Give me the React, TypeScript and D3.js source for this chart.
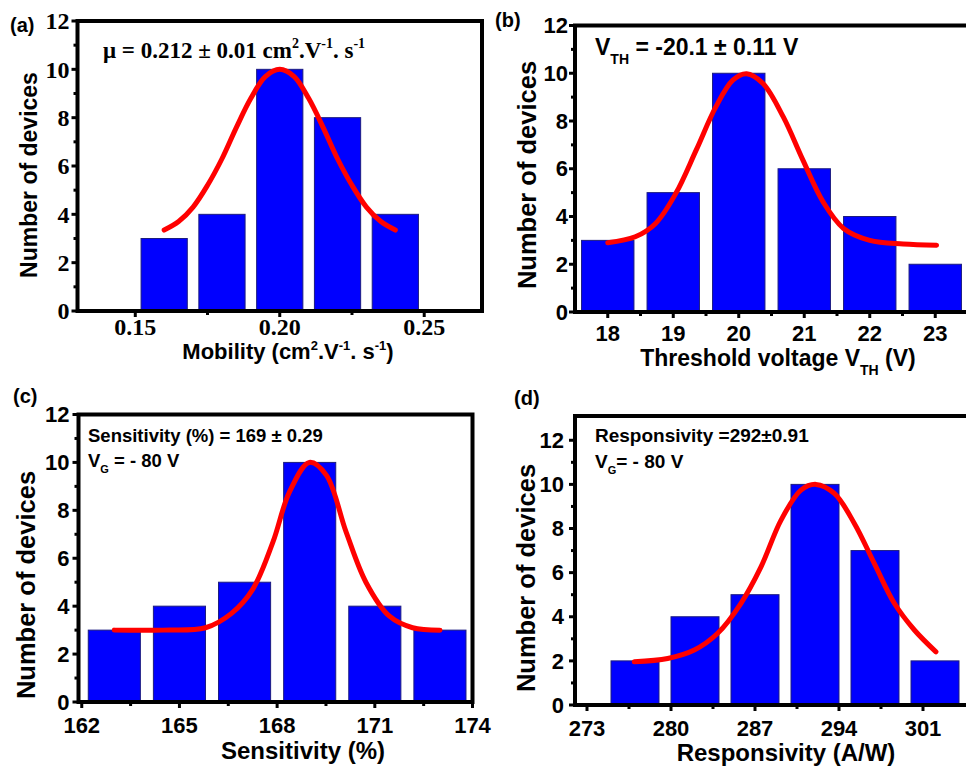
import React from 'react';
import * as d3 from 'd3';

const W = 966;
const H = 769;

// ---------- Panel (a): Mobility ----------
const mobilityBins = [0.16, 0.18, 0.2, 0.22, 0.24];
const mobilityCounts = [3, 4, 10, 8, 4];
const mobilityFitX = [0.16, 0.165, 0.17, 0.175, 0.18, 0.185, 0.19, 0.195, 0.2, 0.205, 0.21, 0.215, 0.22, 0.225, 0.23, 0.235, 0.24];
const mobilityFitY = [3.35, 3.7, 4.3, 5.2, 6.3, 7.6, 8.8, 9.7, 10, 9.7, 8.8, 7.6, 6.3, 5.2, 4.3, 3.7, 3.35];
const mobilityTicks = [0.15, 0.2, 0.25];
const mobilityMinor = [0.175, 0.225];

// ---------- Panel (b): Threshold voltage ----------
const vthBins = [18, 19, 20, 21, 22, 23];
const vthCounts = [3, 5, 10, 6, 4, 2];
const vthFitX = [18.0, 18.42, 18.73, 19.04, 19.35, 19.65, 19.91, 20.12, 20.37, 20.68, 20.98, 21.29, 21.6, 22.0, 22.51, 23.02];
const vthFitY = [2.9, 3.15, 3.71, 4.97, 6.78, 8.59, 9.71, 9.98, 9.57, 8.17, 6.36, 4.6, 3.5, 3.0, 2.85, 2.8];
const vthTicks = [18, 19, 20, 21, 22, 23];
const vthMinor = [18.5, 19.5, 20.5, 21.5, 22.5];

// ---------- Panel (c): Sensitivity ----------
const sensBins = [163, 165, 167, 169, 171, 173];
const sensCounts = [3, 4, 5, 10, 4, 3];
const sensFitX = [163.0, 164.5, 165.8, 166.6, 167.25, 167.87, 168.38, 168.99, 169.51, 170.12, 170.73, 171.45, 172.16, 173.0];
const sensFitY = [3.0, 3.0, 3.1, 3.7, 4.7, 6.67, 8.77, 10.0, 9.47, 7.09, 4.99, 3.58, 3.1, 3.0];
const sensTicks = [162, 165, 168, 171, 174];
const sensMinor = [163.5, 166.5, 169.5, 172.5];

// ---------- Panel (d): Responsivity ----------
const respBins = [277, 282, 287, 292, 297, 302];
const respCounts = [2, 4, 5, 10, 7, 2];
const respFitX = [276.94, 279.72, 281.94, 283.89, 285.83, 287.5, 289.17, 290.83, 292.08, 293.61, 295.28, 296.94, 298.61, 300.28, 302.08];
const respFitY = [1.96, 2.11, 2.49, 3.25, 4.61, 6.26, 8.38, 9.74, 10.0, 9.59, 8.23, 6.42, 4.61, 3.4, 2.41];
const respTicks = [273, 280, 287, 294, 301];
const respMinor = [276.5, 283.5, 290.5, 297.5];

// shared y ticks
const countTicks = [0, 2, 4, 6, 8, 10, 12];
const countMinor = [1, 3, 5, 7, 9, 11];

const SANS = '"Liberation Sans", Arial, sans-serif';
const SERIF = '"Liberation Serif", "Times New Roman", serif';

type PanelProps = {
  left: number; right: number; top: number; bottom: number;
  xDomain: [number, number]; yDomain: [number, number];
  bins: number[]; counts: number[]; barW: number;
  fitX: number[]; fitY: number[];
  xTicks: number[]; xMinor: number[]; xFmt: (v: number) => string;
  tickFont: string; tickSize: number;
  yLabelGap: number; xLabelBase: number;
};

function Panel(p: PanelProps) {
  const x = d3.scaleLinear().domain(p.xDomain).range([p.left, p.right]);
  const y = d3.scaleLinear().domain(p.yDomain).range([p.bottom, p.top]);
  const line = d3.line<number>()
    .x((_, i) => x(p.fitX[i]))
    .y((d) => y(d))
    .curve(d3.curveCatmullRom.alpha(0.5));
  const bw = x(p.xDomain[0] + p.barW) - x(p.xDomain[0]);
  return (
    <g>
      {p.bins.map((b, i) => (
        <rect key={i} x={x(b) - bw / 2} y={y(p.counts[i])} width={bw} height={y(0) - y(p.counts[i])}
          fill="#0000ff" stroke="#1c1c80" strokeWidth={1} />
      ))}
      <path d={line(p.fitY) || ''} fill="none" stroke="#ff0000" strokeWidth={5} strokeLinecap="round" />
      <rect x={p.left} y={p.top} width={p.right - p.left} height={p.bottom - p.top} fill="none" stroke="#000" strokeWidth={4} />
      {countTicks.filter(t => t <= p.yDomain[1]).map((t) => (
        <g key={'y' + t}>
          <line x1={p.left - 6} x2={p.left} y1={y(t)} y2={y(t)} stroke="#000" strokeWidth={3} />
          <text x={p.left - p.yLabelGap} y={y(t)} dy="0.35em" textAnchor="end" fontFamily={p.tickFont} fontWeight="bold" fontSize={p.tickSize}>{t}</text>
        </g>
      ))}
      {countMinor.filter(t => t <= p.yDomain[1]).map((t) => (
        <line key={'ym' + t} x1={p.left - 4} x2={p.left} y1={y(t)} y2={y(t)} stroke="#000" strokeWidth={3} />
      ))}
      {p.xTicks.map((t) => (
        <g key={'x' + t}>
          <line x1={x(t)} x2={x(t)} y1={p.bottom} y2={p.bottom + 6} stroke="#000" strokeWidth={3} />
          <text x={x(t)} y={p.xLabelBase} textAnchor="middle" fontFamily={p.tickFont} fontWeight="bold" fontSize={p.tickSize}>{p.xFmt(t)}</text>
        </g>
      ))}
      {p.xMinor.map((t) => (
        <line key={'xm' + t} x1={x(t)} x2={x(t)} y1={p.bottom} y2={p.bottom + 4} stroke="#000" strokeWidth={3} />
      ))}
    </g>
  );
}

function YTitle({ cx, cy, size }: { cx: number; cy: number; size: number }) {
  return (
    <text transform={`translate(${cx},${cy}) rotate(-90)`} dy="0.35em" textAnchor="middle" fontFamily={SANS} fontWeight="bold" fontSize={size}>
      Number of devices
    </text>
  );
}

export default function App() {
  const f2 = d3.format('.2f');
  const f0 = d3.format('d');
  return (
    <svg width={W} height={H} style={{ position: 'absolute', left: 0, top: 0, background: '#fff' }}>
      <rect x={0} y={0} width={W} height={H} fill="#fff" />
      {/* (a) */}
      <Panel left={77.5} right={482} top={21} bottom={311} xDomain={[0.13, 0.27]} yDomain={[0, 12]}
        bins={mobilityBins} counts={mobilityCounts} barW={0.016} fitX={mobilityFitX} fitY={mobilityFitY}
        xTicks={mobilityTicks} xMinor={mobilityMinor} xFmt={f2} tickFont={SERIF} tickSize={24}
        yLabelGap={8} xLabelBase={335} />
      <text x={10} y={32} fontFamily={SANS} fontWeight="bold" fontSize={20}>(a)</text>
      <YTitle cx={29} cy={175} size={23} />
      <text x={288} y={359} textAnchor="middle" fontFamily={SANS} fontWeight="bold" fontSize={22}>
        Mobility (cm<tspan dy={-9} fontSize={13}>2</tspan><tspan dy={9}>.V</tspan><tspan dy={-9} fontSize={13}>-1</tspan><tspan dy={9}>. s</tspan><tspan dy={-9} fontSize={13}>-1</tspan><tspan dy={9}>)</tspan>
      </text>
      <text x={103} y={58} fontFamily={SERIF} fontWeight="bold" fontSize={23}>
        μ = 0.212 ± 0.01 cm<tspan dy={-10} fontSize={14}>2</tspan><tspan dy={10}>.V</tspan><tspan dy={-10} fontSize={14}>-1</tspan><tspan dy={10}>. s</tspan><tspan dy={-10} fontSize={14}>-1</tspan>
      </text>

      {/* (b) */}
      <Panel left={575} right={968} top={25.5} bottom={312} xDomain={[17.5, 23.5]} yDomain={[0, 12]}
        bins={vthBins} counts={vthCounts} barW={0.8} fitX={vthFitX} fitY={vthFitY}
        xTicks={vthTicks} xMinor={vthMinor} xFmt={f0} tickFont={SANS} tickSize={22}
        yLabelGap={7} xLabelBase={341} />
      <text x={495} y={27} fontFamily={SANS} fontWeight="bold" fontSize={20}>(b)</text>
      <YTitle cx={527} cy={175} size={25.5} />
      <text x={778} y={366} textAnchor="middle" fontFamily={SANS} fontWeight="bold" fontSize={23}>
        Threshold voltage V<tspan dy={9} fontSize={14}>TH</tspan><tspan dy={-9}> (V)</tspan>
      </text>
      <text x={595} y={55} fontFamily={SANS} fontWeight="bold" fontSize={23}>
        V<tspan dy={9} fontSize={14}>TH</tspan><tspan dy={-9}> = -20.1 ± 0.11 V</tspan>
      </text>

      {/* (c) */}
      <Panel left={78.5} right={472.5} top={414.5} bottom={702} xDomain={[161.9, 174]} yDomain={[0, 12]}
        bins={sensBins} counts={sensCounts} barW={1.6} fitX={sensFitX} fitY={sensFitY}
        xTicks={sensTicks} xMinor={sensMinor} xFmt={f0} tickFont={SANS} tickSize={22}
        yLabelGap={9} xLabelBase={733} />
      <text x={13} y={403} fontFamily={SANS} fontWeight="bold" fontSize={20}>(c)</text>
      <YTitle cx={26} cy={585} size={25.5} />
      <text x={303} y={759} textAnchor="middle" fontFamily={SANS} fontWeight="bold" fontSize={24}>Sensitivity (%)</text>
      <text x={88} y={442} fontFamily={SANS} fontWeight="bold" fontSize={18.5}>Sensitivity (%) = 169 ± 0.29</text>
      <text x={88} y={467} fontFamily={SANS} fontWeight="bold" fontSize={18.5}>
        V<tspan dy={6} fontSize={11}>G</tspan><tspan dy={-6}> = - 80 V</tspan>
      </text>

      {/* (d) */}
      <Panel left={575} right={971} top={416} bottom={705} xDomain={[272, 305]} yDomain={[0, 13.1]}
        bins={respBins} counts={respCounts} barW={4} fitX={respFitX} fitY={respFitY}
        xTicks={respTicks} xMinor={respMinor} xFmt={f0} tickFont={SANS} tickSize={22}
        yLabelGap={11} xLabelBase={736} />
      <text x={514} y={405} fontFamily={SANS} fontWeight="bold" fontSize={20}>(d)</text>
      <YTitle cx={526} cy={578} size={25.5} />
      <text x={786} y={761} textAnchor="middle" fontFamily={SANS} fontWeight="bold" fontSize={24}>Responsivity (A/W)</text>
      <text x={595} y={442} fontFamily={SANS} fontWeight="bold" fontSize={19}>Responsivity =292±0.91</text>
      <text x={595} y={468} fontFamily={SANS} fontWeight="bold" fontSize={19}>
        V<tspan dy={6} fontSize={11}>G</tspan><tspan dy={-6}>= - 80 V</tspan>
      </text>
    </svg>
  );
}
